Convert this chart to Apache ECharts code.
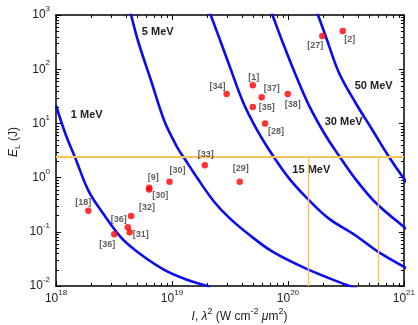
<!DOCTYPE html>
<html><head><meta charset="utf-8">
<script src="https://cdn.jsdelivr.net/npm/echarts@6/dist/echarts.min.js"></script>
<style>html,body{margin:0;padding:0;background:#fff}#c{width:418px;height:325px}</style>
</head><body><div id="c"></div>
<script>
// ---------- data ----------
const refLabels    = ['[27]','[2]','[34]','[1]','[37]','[35]','[38]','[28]','[29]','[33]','[30]','[9]','[30]','[18]','[32]','[36]','[31]','[36]'];
const refIntensity = [1.98e20, 2.97e20, 2.96e19, 4.98e19, 5.94e19, 4.98e19, 9.97e19, 6.35e19, 3.84e19, 1.92e19, 9.53e18, 6.36e18, 6.36e18, 1.90e18, 4.44e18, 4.16e18, 4.32e18, 3.18e18];
const refEnergy    = [410, 507, 34.8, 50.5, 30.3, 20.1, 34.8, 10.0, 0.84, 1.69, 0.84, 0.65, 0.60, 0.245, 0.196, 0.121, 0.098, 0.090];

const curveNames = ['1 MeV', '5 MeV', '15 MeV', '30 MeV', '50 MeV'];
const curve1I  = [1.0e18, 1.216e18, 1.452e18, 1.923e18, 2.667e18, 3.698e18, 5.47e18, 8.65e18, 1.365e19, 1.892e19, 2.14e19];
const curve1E  = [21.4, 6.11, 2.43, 0.550, 0.190, 0.0759, 0.0373, 0.0197, 0.0129, 0.0104, 0.0096];
const curve5I  = [4.32e18, 4.44e18, 5.12e18, 6.65e18, 8.65e18, 1.122e19, 1.279e19, 1.66e19, 2.31e19, 3.155e19, 4.67e19, 7.36e19, 1.419e20, 3.21e20, 3.98e20];
const curve5E  = [1259, 1000, 321, 58.7, 10.7, 3.48, 2.27, 0.97, 0.359, 0.177, 0.0873, 0.0430, 0.0212, 0.0104, 0.0089];
const curve15I = [2.09e19, 2.158e19, 2.63e19, 3.155e19, 4.09e19, 5.32e19, 7.36e19, 1.023e20, 1.466e20, 2.24e20, 3.78e20, 5.97e20, 9.95e20, 1.12e21];
const curve15E = [1202, 1000, 321, 111, 25.1, 8.13, 2.61, 0.97, 0.415, 0.177, 0.0873, 0.0430, 0.0227, 0.020];
const curve30I = [7.16e19, 7.36e19, 8.97e19, 1.167e20, 1.514e20, 2.10e20, 2.73e20, 3.78e20, 5.60e20, 9.95e20, 1.12e21];
const curve30E = [1175, 1000, 321, 78.2, 21.8, 6.11, 2.61, 0.97, 0.359, 0.124, 0.105];
const curve50I = [1.758e20, 1.816e20, 2.10e20, 2.73e20, 3.78e20, 5.24e20, 7.26e20, 9.95e20, 1.12e21];
const curve50E = [1175, 1000, 428, 89.9, 25.1, 8.13, 2.61, 0.97, 0.71];

const thresholdEnergy = 2.4;              // horizontal orange line (J)
const thresholdIntensity = [1.5e20, 6e20]; // vertical orange lines

const xTicks = [1e18, 1e19, 1e20, 1e21];
const yTicks = [1e-2, 1e-1, 1e0, 1e1, 1e2, 1e3];
const minorMultipliers = [2, 3, 4, 5, 6, 7, 8, 9];

// ---------- styling / layout (not data) ----------
const labelOffsets = [[-7,10],[7,9],[-9,-8],[1,-8],[10,-9],[14,1],[5,10],[11,8],[1,-13],[1,-11],[8,-11],[4,-10],[11,6],[-5,-8],[16,-8],[-9,-8],[11,2],[-7,10]];
const FONT = 'Liberation Sans, Arial, Helvetica, sans-serif';
const BLUE = '#0b0bf2';
const ORANGE = '#f8c25c';

const chart = echarts.init(document.getElementById('c'), null, {renderer: 'canvas'});

function powLabel(v) {
  const e = Math.round(Math.log10(v));
  return '{b|10}{s|' + (e < 0 ? '-' : '') + Math.abs(e) + '}';
}
const tickRich = {
  b: {fontSize: 12, color: '#222', fontFamily: FONT},
  s: {fontSize: 8, color: '#222', fontFamily: FONT, padding: [0, 0, 12, 0]}
};

const xMinor = [], yMinor = [];
for (let i = 0; i < xTicks.length - 1; i++) minorMultipliers.forEach(m => xMinor.push([m * xTicks[i], 1]));
for (let i = 0; i < yTicks.length - 1; i++) minorMultipliers.forEach(m => yMinor.push([1e19, m * yTicks[i]]));

function curveSeries(name, xs, ys) {
  return {
    type: 'line', name: name, data: xs.map((x, i) => [x, ys[i]]),
    showSymbol: false, smooth: 0.35, clip: true, z: 3,
    lineStyle: {color: BLUE, width: 2.6}, silent: true
  };
}

const axisCommonX = {
  type: 'log', logBase: 10, min: xTicks[0], max: xTicks[xTicks.length - 1], splitNumber: 3,
  splitLine: {show: false},
  axisLine: {show: true, onZero: false, lineStyle: {color: '#000', width: 1.5}},
  axisTick: {show: true, inside: true, length: 5, lineStyle: {color: '#000', width: 1}}
};
const axisCommonY = {
  type: 'log', logBase: 10, min: yTicks[0], max: yTicks[yTicks.length - 1], splitNumber: 5,
  splitLine: {show: false},
  axisLine: {show: true, onZero: false, lineStyle: {color: '#000', width: 1.5}},
  axisTick: {show: true, inside: true, length: 5, lineStyle: {color: '#000', width: 1}}
};

const option = {
  animation: false,
  textStyle: {fontFamily: FONT},
  grid: {left: 56, right: 10, top: 15, bottom: 39, containLabel: false},
  xAxis: [
    Object.assign({}, axisCommonX, {position: 'bottom',
      axisLabel: {margin: 3, formatter: powLabel, rich: tickRich}}),
    Object.assign({}, axisCommonX, {position: 'top', axisLabel: {show: false}})
  ],
  yAxis: [
    Object.assign({}, axisCommonY, {position: 'left',
      axisLabel: {margin: 6, formatter: powLabel, rich: tickRich}}),
    Object.assign({}, axisCommonY, {position: 'right', axisLabel: {show: false}})
  ],
  series: [
    {
      type: 'line', data: [], silent: true, z: 2,
      markLine: {
        silent: true, symbol: 'none', label: {show: false}, animation: false,
        data: [
          [{coord: [xTicks[0], thresholdEnergy], lineStyle: {color: ORANGE, width: 2, type: 'solid'}},
           {coord: [xTicks[xTicks.length - 1], thresholdEnergy]}],
          ...thresholdIntensity.map(v => [
            {coord: [v, yTicks[0]], lineStyle: {color: ORANGE, width: 1.4, type: 'solid'}},
            {coord: [v, thresholdEnergy]}
          ])
        ]
      }
    },
    curveSeries(curveNames[0], curve1I, curve1E),
    curveSeries(curveNames[1], curve5I, curve5E),
    curveSeries(curveNames[2], curve15I, curve15E),
    curveSeries(curveNames[3], curve30I, curve30E),
    curveSeries(curveNames[4], curve50I, curve50E),
    {
      type: 'scatter', z: 5, symbol: 'circle', symbolSize: 6.5,
      itemStyle: {color: '#ff0000'},
      data: refIntensity.map((x, i) => ({value: [x, refEnergy[i]], label: {offset: labelOffsets[i]}})),
      label: {
        show: true, position: 'inside', formatter: p => refLabels[p.dataIndex],
        fontSize: 9, fontWeight: 'bold', color: '#333', fontFamily: FONT
      }
    },
    {
      type: 'custom', z: 6, silent: true, data: xMinor, clip: false,
      renderItem: (params, api) => {
        const x = Math.round(api.coord([api.value(0), 1])[0]) + 0.5;
        const cs = params.coordSys;
        const st = {stroke: '#000', lineWidth: 1};
        return {type: 'group', children: [
          {type: 'line', shape: {x1: x, y1: cs.y + cs.height, x2: x, y2: cs.y + cs.height - 3}, style: st},
          {type: 'line', shape: {x1: x, y1: cs.y, x2: x, y2: cs.y + 3}, style: st}
        ]};
      }
    },
    {
      type: 'custom', z: 6, silent: true, data: yMinor, clip: false,
      renderItem: (params, api) => {
        const y = Math.round(api.coord([1e19, api.value(1)])[1]) + 0.5;
        const cs = params.coordSys;
        const st = {stroke: '#000', lineWidth: 1};
        return {type: 'group', children: [
          {type: 'line', shape: {x1: cs.x, y1: y, x2: cs.x + 3, y2: y}, style: st},
          {type: 'line', shape: {x1: cs.x + cs.width, y1: y, x2: cs.x + cs.width - 3, y2: y}, style: st}
        ]};
      }
    }
  ],
  graphic: [
    {type: 'text', x: 157.7, y: 31.7, style: {text: '5 MeV', font: 'bold 11px ' + FONT, fill: '#222', textAlign: 'center', textVerticalAlign: 'middle'}},
    {type: 'text', x: 86.7, y: 115, style: {text: '1 MeV', font: 'bold 11px ' + FONT, fill: '#222', textAlign: 'center', textVerticalAlign: 'middle'}},
    {type: 'text', x: 373.7, y: 85.7, style: {text: '50 MeV', font: 'bold 11px ' + FONT, fill: '#222', textAlign: 'center', textVerticalAlign: 'middle'}},
    {type: 'text', x: 343.7, y: 122.3, style: {text: '30 MeV', font: 'bold 11px ' + FONT, fill: '#222', textAlign: 'center', textVerticalAlign: 'middle'}},
    {type: 'text', x: 311.3, y: 170, style: {text: '15 MeV', font: 'bold 11px ' + FONT, fill: '#222', textAlign: 'center', textVerticalAlign: 'middle'}},
    {type: 'text', x: 239.5, y: 317, style: {
      text: '{i|I}{n|, }{i|λ}{s|2}{n| (W cm}{s|-2}{n| }{i|μ}{n|m}{s|2}{n|)}',
      textAlign: 'center', textVerticalAlign: 'middle',
      rich: {
        n: {fontSize: 12, fill: '#222', fontFamily: FONT},
        i: {fontSize: 12, fill: '#222', fontFamily: FONT, fontStyle: 'italic'},
        s: {fontSize: 9, fill: '#222', fontFamily: FONT, padding: [0, 0, 10, 0]}
      }}},
    {type: 'text', x: 14, y: 142, rotation: Math.PI / 2, style: {
      text: '{i|E}{sub|L}{n| (J)}',
      textAlign: 'center', textVerticalAlign: 'middle',
      rich: {
        n: {fontSize: 12, fill: '#222', fontFamily: FONT},
        i: {fontSize: 12, fill: '#222', fontFamily: FONT, fontStyle: 'italic'},
        sub: {fontSize: 8, fill: '#222', fontFamily: FONT, padding: [8, 0, 0, 0]}
      }}}
  ]
};
chart.setOption(option);
</script>
</body></html>
